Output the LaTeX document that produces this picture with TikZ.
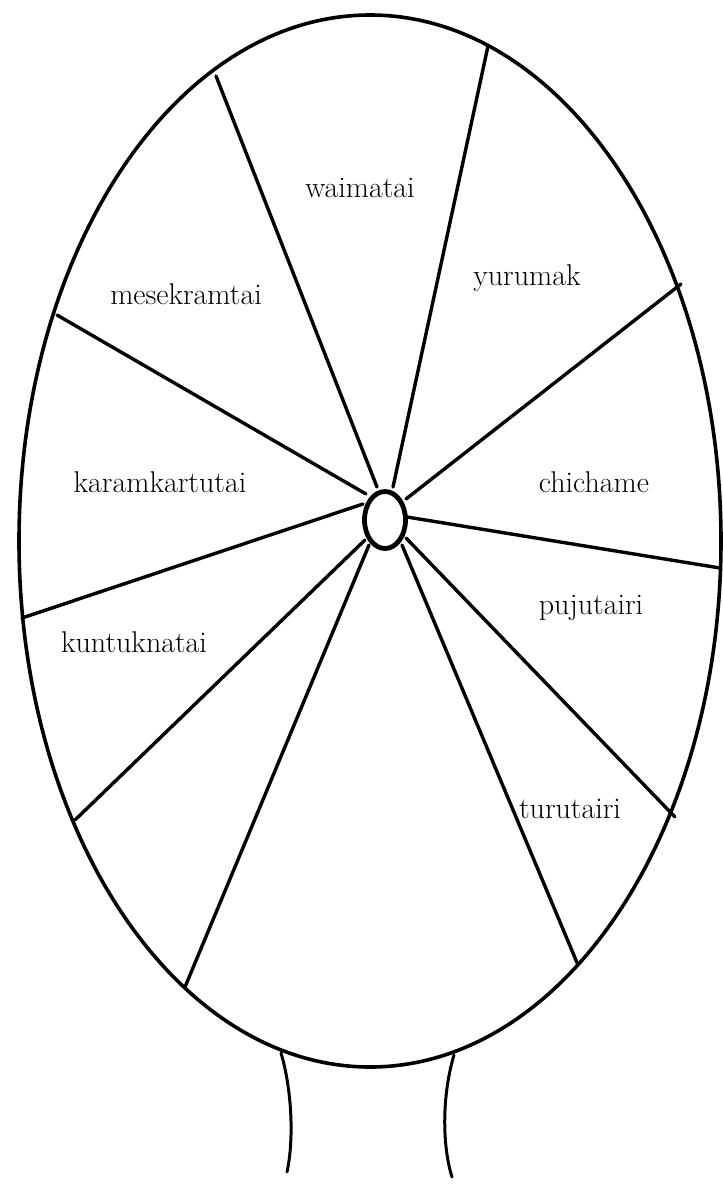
\documentclass[tikz,border=0pt]{standalone}
\usetikzlibrary{shapes.geometric}
\begin{document}
\begin{tikzpicture}[x=1pt,y=-1pt,
  rim/.style={line width=3.6pt},
  spoke/.style={line width=3.4pt,line cap=round},
  hubline/.style={line width=4.8pt},
  leg/.style={line width=3pt,line cap=round},
  lbl/.style={font=\fontsize{30}{35}\selectfont,inner sep=0pt,anchor=base}]
\useasboundingbox[fill=white] (0,0) rectangle (723,1203);
% rim and hub
\draw[rim] (370,541) ellipse [x radius=351, y radius=526];
\node[draw,hubline,ellipse,minimum width=41pt,minimum height=57pt,inner sep=0pt] (hub) at (385,520) {};
% outer spoke ends
\coordinate (o1) at (216,76);
\coordinate (o2) at (488,46);
\coordinate (o3) at (681,284);
\coordinate (o4) at (720,568);
\coordinate (o5) at (675,817);
\coordinate (o6) at (578,965);
\coordinate (o7) at (185,987);
\coordinate (o8) at (75,820);
\coordinate (o9) at (22,618);
\coordinate (o10) at (57,315);
% inner spoke ends (at hub)
\coordinate (i1) at (377,487);
\coordinate (i2) at (393,487);
\coordinate (i3) at (406,499);
\coordinate (i4) at (407,517);
\coordinate (i5) at (406,538);
\coordinate (i6) at (402,545);
\coordinate (i7) at (369,545);
\coordinate (i8) at (365,540);
\coordinate (i9) at (363,504);
\coordinate (i10) at (366,494);
\foreach \k in {1,...,10} \draw[spoke] (o\k) -- (i\k);
% legs
\coordinate (l1) at (281,1053);
\coordinate (l2) at (287,1172);
\coordinate (r1) at (454,1055);
\coordinate (r2) at (452,1177);
\draw[leg] (l1) .. controls (292,1090) and (294,1140) .. (l2);
\draw[leg] (r1) .. controls (442,1095) and (442,1145) .. (r2);
% labels
\node[lbl] (t1) at (360,197) {waimatai};
\node[lbl] (t2) at (527,285) {yurumak};
\node[lbl] (t3) at (186,304) {mesekramtai};
\node[lbl] (t4) at (160,492) {karamkartutai};
\node[lbl] (t5) at (594,492) {chichame};
\node[lbl] (t6) at (591,614) {pujutairi};
\node[lbl] (t7) at (134,652) {kuntuknatai};
\node[lbl] (t8) at (570,818) {turutairi};
\end{tikzpicture}
\end{document}
